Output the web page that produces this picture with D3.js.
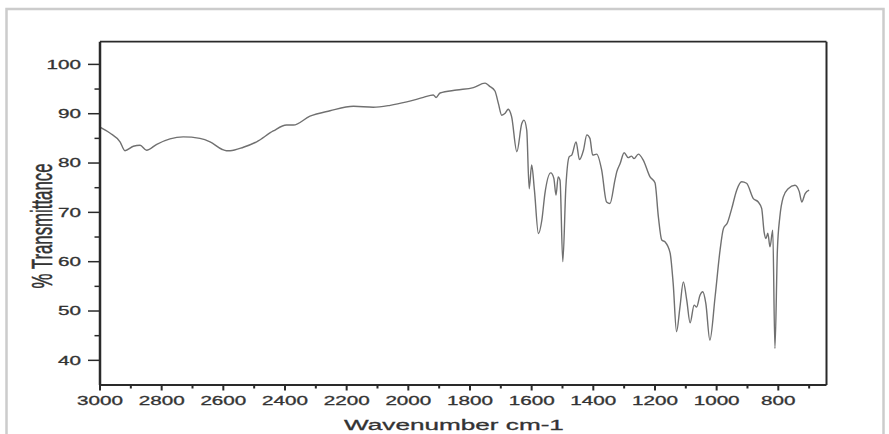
<!DOCTYPE html>
<html>
<head>
<meta charset="utf-8">
<script src="https://cdn.jsdelivr.net/npm/d3@7"></script>
<style>
  html, body { margin: 0; padding: 0; background: #fff; }
  svg { display: block; }
  text { font-family: "Liberation Sans", Arial, sans-serif; fill: #333; stroke: #333; stroke-width: 0.3px; }
</style>
</head>
<body>
<svg id="chart" width="889" height="434"></svg>
<script>
// FTIR spectrum: wavenumber (cm-1) and % transmittance
const wavenumber = [
  3000, 2968, 2935, 2919, 2892, 2870, 2849, 2816, 2773, 2730, 2676, 2643, 2605, 2590, 2578,
  2535, 2492, 2438, 2395, 2373, 2319, 2254, 2178, 2114, 2059, 2005, 1951, 1919, 1910, 1897,
  1843, 1789, 1751, 1737, 1719, 1708, 1697, 1686, 1676, 1665, 1648, 1632, 1625, 1616, 1608,
  1600, 1591, 1578, 1567, 1557, 1538, 1528, 1521, 1514, 1508, 1499, 1489, 1478, 1470, 1456,
  1445, 1432, 1421, 1411, 1402, 1389, 1373, 1357, 1346, 1330, 1324, 1313, 1300, 1287, 1276,
  1268, 1254, 1238, 1216, 1200, 1189, 1178, 1167, 1151, 1141, 1130, 1119, 1108, 1097, 1086,
  1073, 1065, 1054, 1045, 1035, 1022, 1005, 989, 978, 965, 951, 935, 919, 903, 881,
  865, 854, 846, 840, 834, 827, 818, 811, 803, 795, 784, 768, 746, 732, 724,
  713, 700
];
const transmittance = [
  87.3, 86.1, 84.3, 82.5, 83.4, 83.6, 82.6, 83.8, 84.9, 85.3, 85.0, 84.3, 82.8, 82.5, 82.5,
  83.2, 84.3, 86.5, 87.7, 87.7, 89.5, 90.6, 91.5, 91.3, 91.7, 92.4, 93.3, 93.8, 93.3, 94.2,
  94.8, 95.3, 96.2, 95.6, 94.6, 92.1, 89.7, 90.1, 90.9, 89.4, 82.3, 88.0, 88.7, 86.7, 74.8,
  79.6, 74.5, 65.7, 68.4, 73.8, 78.0, 76.9, 73.5, 77.2, 76.5, 60.0, 75.2, 81.3, 81.6, 84.3,
  80.7, 82.6, 85.7, 85.0, 81.6, 81.8, 78.6, 72.1, 71.8, 76.5, 78.2, 79.9, 82.1, 81.1, 81.4,
  80.9, 81.8, 80.6, 77.2, 76.0, 69.1, 64.4, 64.0, 61.8, 55.6, 45.8, 50.8, 55.9, 52.2, 47.6,
  51.2, 50.8, 53.2, 53.9, 51.5, 44.1, 52.9, 62.3, 66.7, 67.9, 70.8, 74.5, 76.2, 75.9, 72.8,
  72.1, 70.8, 66.0, 64.7, 65.8, 63.0, 66.4, 42.4, 62.3, 69.1, 73.1, 74.8, 75.5, 74.2, 72.1,
  73.8, 74.5
];

const xMajorTicks = [3000, 2800, 2600, 2400, 2200, 2000, 1800, 1600, 1400, 1200, 1000, 800];
const xMinorTicks = [2900, 2700, 2500, 2300, 2100, 1900, 1700, 1500, 1300, 1100, 900, 700];
const yMajorTicks = [40, 50, 60, 70, 80, 90, 100];
const yMinorTicks = [45, 55, 65, 75, 85, 95];

const xTitle = "Wavenumber cm-1";
const yTitle = "% Transmittance";

// Plot frame and text stretch (glyphs are drawn wide)
const frame = { left: 100, right: 826.5, top: 41.7, bottom: 385 };
const stretch = 1.72;

const svg = d3.select("#chart");

// light outer border
svg.append("rect")
  .attr("x", 6.5).attr("y", 9).attr("width", 877).attr("height", 450)
  .attr("fill", "none").attr("stroke", "#cccccc").attr("stroke-width", 2.5);

const x = d3.scaleLinear().domain([3000, 643.7]).range([frame.left, frame.right]);
const y = d3.scaleLinear().domain([35, 104.6]).range([frame.bottom, frame.top]);

// spectrum trace
const data = wavenumber.map((w, i) => ({ w, t: transmittance[i] }));
const line = d3.line()
  .x(d => x(d.w))
  .y(d => y(d.t))
  .curve(d3.curveMonotoneX);

svg.append("path")
  .datum(data)
  .attr("d", line)
  .attr("fill", "none")
  .attr("stroke", "#707070")
  .attr("stroke-width", 1.4)
  .attr("stroke-linejoin", "round");

// frame: top & right
svg.append("line")
  .attr("x1", frame.left).attr("x2", frame.right)
  .attr("y1", frame.top).attr("y2", frame.top)
  .attr("stroke", "#2a2a2a").attr("stroke-width", 1.7);
svg.append("line")
  .attr("x1", frame.right).attr("x2", frame.right)
  .attr("y1", frame.top).attr("y2", frame.bottom)
  .attr("stroke", "#2a2a2a").attr("stroke-width", 2);

// bottom axis
const xAxisG = svg.append("g").attr("transform", `translate(0,${frame.bottom})`);
xAxisG.append("line")
  .attr("x1", frame.left).attr("x2", frame.right)
  .attr("stroke", "#2a2a2a").attr("stroke-width", 2);
xAxisG.selectAll(".xmaj").data(xMajorTicks).join("line")
  .attr("x1", d => x(d)).attr("x2", d => x(d))
  .attr("y1", 0).attr("y2", 5.5)
  .attr("stroke", "#2a2a2a").attr("stroke-width", 2);
xAxisG.selectAll(".xmin").data(xMinorTicks).join("line")
  .attr("x1", d => x(d)).attr("x2", d => x(d))
  .attr("y1", 0).attr("y2", 3.5)
  .attr("stroke", "#2a2a2a").attr("stroke-width", 2);
xAxisG.selectAll(".xlab").data(xMajorTicks).join("text")
  .attr("transform", d => `translate(${x(d)},20) scale(${stretch},1)`)
  .attr("text-anchor", "middle")
  .attr("font-size", 12)
  .text(d => d);

// left axis
const yAxisG = svg.append("g").attr("transform", `translate(${frame.left},0)`);
yAxisG.append("line")
  .attr("y1", frame.top).attr("y2", frame.bottom)
  .attr("stroke", "#2a2a2a").attr("stroke-width", 2.5);
yAxisG.selectAll(".ymaj").data(yMajorTicks).join("line")
  .attr("y1", d => y(d)).attr("y2", d => y(d))
  .attr("x1", 0).attr("x2", -12)
  .attr("stroke", "#2a2a2a").attr("stroke-width", 1.5);
yAxisG.selectAll(".ymin").data(yMinorTicks).join("line")
  .attr("y1", d => y(d)).attr("y2", d => y(d))
  .attr("x1", 0).attr("x2", -5.5)
  .attr("stroke", "#2a2a2a").attr("stroke-width", 1.5);
yAxisG.selectAll(".ylab").data(yMajorTicks).join("text")
  .attr("transform", d => `translate(-19,${y(d)}) scale(${stretch},1)`)
  .attr("text-anchor", "end")
  .attr("dy", "0.36em")
  .attr("font-size", 12)
  .text(d => d);

// axis titles
svg.append("text")
  .attr("transform", `translate(454,430) scale(${stretch},1)`)
  .attr("text-anchor", "middle")
  .attr("font-size", 15.2)
  .text(xTitle);

svg.append("text")
  .attr("transform", `translate(51.5,226) scale(${stretch},1) rotate(-90)`)
  .attr("text-anchor", "middle")
  .attr("font-size", 16.8)
  .text(yTitle);
</script>
</body>
</html>
